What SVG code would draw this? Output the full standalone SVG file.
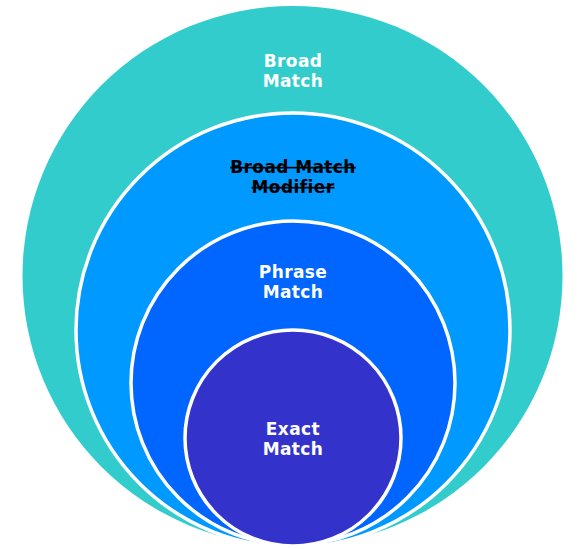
<svg xmlns="http://www.w3.org/2000/svg" width="583" height="549" viewBox="0 0 583 549">
<style>
.ring{stroke:#ffffff;stroke-width:3.5}
.lbl{font-family:"DejaVu Sans",Verdana,sans-serif;font-weight:bold;font-size:17px;letter-spacing:0.4px;text-anchor:middle;fill:#ffffff}
.strike{fill:#000000;text-decoration:line-through}
</style>
<rect width="583" height="549" fill="#ffffff"/>
<g id="broad">
<circle cx="292.5" cy="276" r="270" fill="#33CCCC"/>
<text class="lbl" x="293" y="67">Broad</text>
<text class="lbl" x="293" y="87">Match</text>
</g>
<g id="bmm">
<circle class="ring" cx="293" cy="330" r="217" fill="#0099FF"/>
<text class="lbl strike" x="293" y="173">Broad Match</text>
<text class="lbl strike" x="293" y="193">Modifier</text>
</g>
<g id="phrase">
<circle class="ring" cx="293" cy="383" r="162" fill="#0066FF"/>
<text class="lbl" x="293" y="278">Phrase</text>
<text class="lbl" x="293" y="298">Match</text>
</g>
<g id="exact">
<circle class="ring" cx="293" cy="438" r="108" fill="#3333CC"/>
<text class="lbl" x="293" y="435">Exact</text>
<text class="lbl" x="293" y="455">Match</text>
</g>
<g id="connectors"></g>
</svg>
